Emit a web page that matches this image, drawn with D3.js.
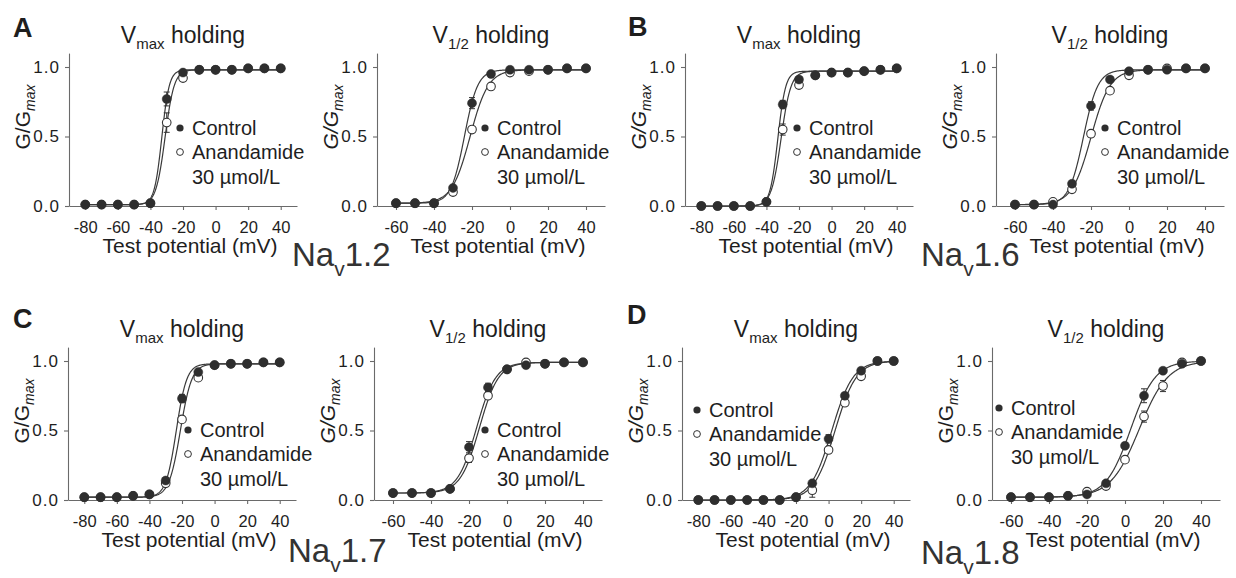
<!DOCTYPE html>
<html><head><meta charset="utf-8">
<script src="https://cdn.jsdelivr.net/npm/d3@7"></script>
<style>
html,body{margin:0;padding:0;background:#fff;}
svg{display:block;font-family:"Liberation Sans",Arial,sans-serif;}
</style></head>
<body>
<script>
// ---------- data ----------
const vmaxVoltages = [-80,-70,-60,-50,-40,-30,-20,-10,0,10,20,30,40];
const halfVoltages = [-60,-50,-40,-30,-20,-10,0,10,20,30,40];
const vmaxTicks = [-80,-60,-40,-20,0,20,40];
const halfTicks = [-60,-40,-20,0,20,40];
const yTicks = [0,0.5,1.0];

const nav12VmaxControl    = [0.01,0.01,0.01,0.01,0.02,0.77,0.96,0.98,0.98,0.98,0.99,0.99,0.99];
const nav12VmaxAnandamide = [0.01,0.01,0.01,0.01,0.02,0.60,0.92,0.98,0.98,0.98,0.99,0.99,0.99];
const nav12HalfControl    = [0.02,0.02,0.02,0.13,0.74,0.95,0.98,0.98,0.98,0.99,0.99];
const nav12HalfAnandamide = [0.02,0.02,0.02,0.10,0.55,0.86,0.96,0.97,0.98,0.99,0.99];
const nav16VmaxControl    = [0,0,0,0,0.03,0.73,0.91,0.94,0.96,0.96,0.97,0.98,0.99];
const nav16VmaxAnandamide = [0,0,0,0,0.03,0.55,0.87,0.94,0.96,0.96,0.97,0.98,0.99];
const nav16HalfControl    = [0.01,0.01,0.01,0.16,0.72,0.91,0.97,0.98,0.98,0.99,0.99];
const nav16HalfAnandamide = [0.01,0.01,0.03,0.12,0.52,0.83,0.94,0.98,0.99,0.99,0.99];
const nav17VmaxControl    = [0.02,0.02,0.02,0.03,0.04,0.14,0.73,0.92,0.97,0.98,0.98,0.99,0.99];
const nav17VmaxAnandamide = [0.02,0.02,0.02,0.03,0.04,0.12,0.58,0.88,0.97,0.98,0.98,0.99,0.99];
const nav17HalfControl    = [0.05,0.05,0.05,0.08,0.38,0.81,0.94,0.97,0.98,0.99,0.99];
const nav17HalfAnandamide = [0.05,0.05,0.05,0.08,0.30,0.75,0.94,0.99,0.98,0.99,0.99];
const nav18VmaxControl    = [0,0,0,0,0,0,0.02,0.12,0.44,0.75,0.93,1.0,1.0];
const nav18VmaxAnandamide = [0,0,0,0,0,0,0.02,0.07,0.36,0.70,0.89,1.0,1.0];
const nav18HalfControl    = [0.02,0.02,0.02,0.03,0.04,0.12,0.39,0.75,0.93,0.98,1.0];
const nav18HalfAnandamide = [0.02,0.02,0.02,0.03,0.06,0.10,0.29,0.60,0.82,0.99,1.0];

// error bars (SEM)
const nav12VmaxControlErr    = [0,0,0,0,0,0.05,0,0,0,0,0,0,0];
const nav12VmaxAnandamideErr = [0,0,0,0,0,0.07,0,0,0,0,0,0,0];
const nav12HalfControlErr    = [0,0,0,0,0.04,0,0,0,0,0,0];
const nav12HalfAnandamideErr = [0,0,0,0,0,0,0,0,0,0,0];
const nav16VmaxControlErr    = [0,0,0,0,0,0.03,0,0,0,0,0,0,0];
const nav16VmaxAnandamideErr = [0,0,0,0,0,0.04,0,0,0,0,0,0,0];
const nav16HalfControlErr    = [0,0,0,0,0.03,0,0,0,0,0,0];
const nav16HalfAnandamideErr = [0,0,0,0,0,0,0,0,0,0,0];
const nav17VmaxControlErr    = [0,0,0,0,0,0,0.03,0,0,0,0,0,0];
const nav17VmaxAnandamideErr = [0,0,0,0,0,0,0,0,0,0,0,0,0];
const nav17HalfControlErr    = [0,0,0,0,0.04,0.03,0,0,0,0,0];
const nav17HalfAnandamideErr = [0,0,0,0,0.03,0,0,0,0,0,0];
const nav18VmaxControlErr    = [0,0,0,0,0,0,0,0,0.03,0,0,0,0];
const nav18VmaxAnandamideErr = [0,0,0,0,0,0,0,0.05,0,0,0,0,0];
const nav18HalfControlErr    = [0,0,0,0,0,0,0.02,0.05,0,0,0];
const nav18HalfAnandamideErr = [0,0,0,0,0,0,0,0.04,0.04,0,0];

// Boltzmann fit parameters per panel (A-Vmax, A-V1/2, B-Vmax, B-V1/2, C-Vmax, C-V1/2, D-Vmax, D-V1/2)
const fitHalfControl     = [-33, -24, -33, -24, -23.5, -16, 2, 3];
const fitSlopeControl    = [2.3, 3.5, 2.4, 3.8, 3.2, 5, 6.5, 6.5];
const fitHalfAnandamide  = [-31, -21, -31, -20, -21, -14.5, 4, 7.5];
const fitSlopeAnandamide = [2.8, 4.8, 3, 5, 3.5, 5, 6.5, 7.5];
const fitBottom          = [0.01, 0.02, 0, 0.01, 0.02, 0.05, 0, 0.02];
const fitTop             = [0.98, 0.98, 0.97, 0.98, 0.98, 0.99, 1.0, 1.0];

const channelNames = ["1.2","1.6","1.7","1.8"];
const panelLetters = ["A","B","C","D"];

// ---------- layout ----------
const W = 1236, H = 578;
const plotW = 228;
const unitH = 139;
const panels = [
  {kind:"vmax", ox:69,  y0:206, ctl:nav12VmaxControl, ana:nav12VmaxAnandamide, ce:nav12VmaxControlErr, ae:nav12VmaxAnandamideErr, leg:[111,61], up:true},
  {kind:"half", ox:377, y0:206, ctl:nav12HalfControl, ana:nav12HalfAnandamide, ce:nav12HalfControlErr, ae:nav12HalfAnandamideErr, leg:[108,61], up:false},
  {kind:"vmax", ox:685, y0:206, ctl:nav16VmaxControl, ana:nav16VmaxAnandamide, ce:nav16VmaxControlErr, ae:nav16VmaxAnandamideErr, leg:[112,61], up:false},
  {kind:"half", ox:996, y0:206, ctl:nav16HalfControl, ana:nav16HalfAnandamide, ce:nav16HalfControlErr, ae:nav16HalfAnandamideErr, leg:[109,61], up:false},
  {kind:"vmax", ox:68,  y0:500, ctl:nav17VmaxControl, ana:nav17VmaxAnandamide, ce:nav17VmaxControlErr, ae:nav17VmaxAnandamideErr, leg:[120,69], up:true},
  {kind:"half", ox:374, y0:500, ctl:nav17HalfControl, ana:nav17HalfAnandamide, ce:nav17HalfControlErr, ae:nav17HalfAnandamideErr, leg:[111,69], up:false},
  {kind:"vmax", ox:682, y0:500, ctl:nav18VmaxControl, ana:nav18VmaxAnandamide, ce:nav18VmaxControlErr, ae:nav18VmaxAnandamideErr, leg:[15,49], up:false},
  {kind:"half", ox:992, y0:500, ctl:nav18HalfControl, ana:nav18HalfAnandamide, ce:nav18HalfControlErr, ae:nav18HalfAnandamideErr, leg:[7,47], up:true}
];
const letterPos = [[13,37],[628,36],[13,328],[627,324]];
const navPos = [[292,266],[921,266],[288,562],[921,564]];

const INK = "#1e1e1e", DOT = "#2e2e2e", AX = "#6a6a6a";

const svg = d3.select("body").append("svg").attr("width",W).attr("height",H);
svg.append("rect").attr("width",W).attr("height",H).attr("fill","#fff");

panels.forEach((p,i) => {
  const isV = p.kind === "vmax";
  const volts = isV ? vmaxVoltages : halfVoltages;
  const x = d3.scaleLinear().domain(isV ? [-90,50] : [-70,50]).range([p.ox, p.ox + plotW]);
  const y = d3.scaleLinear().domain([0,1.1]).range([p.y0, p.y0 - unitH*1.1]);
  const g = svg.append("g");

  // axes
  const xa = g.append("g").attr("transform",`translate(0,${p.y0})`)
    .call(d3.axisBottom(x).tickValues(isV ? vmaxTicks : halfTicks).tickSize(4).tickSizeOuter(0).tickPadding(11).tickFormat(d3.format("d")));
  const ya = g.append("g").attr("transform",`translate(${p.ox},0)`)
    .call(d3.axisLeft(y).tickValues(yTicks).tickSize(4).tickSizeOuter(0).tickPadding(5).tickFormat(d3.format(".1f")));
  [xa,ya].forEach(a => {
    a.selectAll("path,line").attr("stroke",AX).attr("stroke-width",1.1);
    a.selectAll("text").attr("fill",INK).attr("font-family","Liberation Sans, Arial, sans-serif");
  });
  xa.selectAll("text").attr("font-size",16.5).text(d => d < 0 ? "-" + Math.abs(d) : d);
  ya.selectAll("text").attr("font-size",17).attr("letter-spacing",1);

  // fits
  const fitX = d3.range(volts[0], volts[volts.length-1] + 0.01, 0.25);
  const boltz = (v, vh, k) => fitBottom[i] + (fitTop[i] - fitBottom[i]) / (1 + Math.exp((vh - v)/k));
  const line = d3.line().x(d => x(d[0])).y(d => y(d[1]));
  g.append("path").datum(fitX.map(v => [v, boltz(v, fitHalfAnandamide[i], fitSlopeAnandamide[i])]))
    .attr("d",line).attr("fill","none").attr("stroke","#3a3a3a").attr("stroke-width",1.2);
  g.append("path").datum(fitX.map(v => [v, boltz(v, fitHalfControl[i], fitSlopeControl[i])]))
    .attr("d",line).attr("fill","none").attr("stroke","#3a3a3a").attr("stroke-width",1.2);

  // error bars
  const drawErr = (vals, errs) => {
    volts.forEach((v,j) => {
      if (!errs[j]) return;
      const cx = x(v);
      g.append("line").attr("x1",cx).attr("x2",cx).attr("y1",y(vals[j]-errs[j])).attr("y2",y(vals[j]+errs[j])).attr("stroke","#333").attr("stroke-width",1);
      [vals[j]-errs[j], vals[j]+errs[j]].forEach(e => g.append("line").attr("x1",cx-3).attr("x2",cx+3).attr("y1",y(e)).attr("y2",y(e)).attr("stroke","#333").attr("stroke-width",1));
    });
  };
  drawErr(p.ana, p.ae);
  drawErr(p.ctl, p.ce);

  // points
  g.selectAll(null).data(volts.map((v,j)=>[v,p.ana[j]])).join("circle")
    .attr("cx",d=>x(d[0])).attr("cy",d=>y(d[1])).attr("r",4.3)
    .attr("fill","#fff").attr("stroke","#333").attr("stroke-width",1.1);
  g.selectAll(null).data(volts.map((v,j)=>[v,p.ctl[j]])).join("circle")
    .attr("cx",d=>x(d[0])).attr("cy",d=>y(d[1])).attr("r",4.5)
    .attr("fill",DOT).attr("stroke",DOT).attr("stroke-width",0.5);

  // title
  const tx = p.ox + plotW/2, ty = p.y0 - unitH - 24;
  const t = g.append("text").attr("x",tx).attr("y",ty).attr("text-anchor","middle").attr("fill",INK).attr("font-size",23);
  t.append("tspan").text("V");
  t.append("tspan").attr("font-size",15).attr("dy",6).text(isV ? "max" : "1/2");
  t.append("tspan").attr("dy",-6).text(" holding");

  // y label
  const yl = g.append("text").attr("transform",`translate(${p.ox-39},${y(0.64)}) rotate(-90)`)
    .attr("text-anchor","middle").attr("fill",INK).attr("font-size",21);
  yl.append("tspan").attr("font-style", p.up ? "normal" : "italic").text("G/G");
  yl.append("tspan").attr("font-size",14).attr("font-style","italic").attr("dy",5).text("max");

  // x label
  g.append("text").attr("x",p.ox + plotW/2 + 7).attr("y",p.y0 + 47).attr("text-anchor","middle")
    .attr("fill",INK).attr("font-size",21).text("Test potential (mV)");

  // legend
  const lx = p.ox + p.leg[0], ly = p.y0 - unitH + p.leg[1];
  g.append("circle").attr("cx",lx).attr("cy",ly).attr("r",3.6).attr("fill",DOT);
  g.append("circle").attr("cx",lx).attr("cy",ly+24).attr("r",3.4).attr("fill","#fff").attr("stroke","#333").attr("stroke-width",1);
  [["Control",0],["Anandamide",24],["30 µmol/L",49]].forEach(([s,dy]) =>
    g.append("text").attr("x",lx+12).attr("y",ly+dy+7).attr("fill",INK).attr("font-size",20).text(s));
});

// panel letters and channel names
panelLetters.forEach((L,k) => {
  svg.append("text").attr("x",letterPos[k][0]).attr("y",letterPos[k][1]).attr("font-size",27)
    .attr("font-weight","bold").attr("fill",INK).text(L);
  const t = svg.append("text").attr("x",navPos[k][0]).attr("y",navPos[k][1]).attr("font-size",33).attr("fill","#333");
  t.append("tspan").text("Na");
  t.append("tspan").attr("font-size",21).attr("dy",10).text("v");
  t.append("tspan").attr("dy",-10).text(channelNames[k]);
});
</script>
</body></html>
